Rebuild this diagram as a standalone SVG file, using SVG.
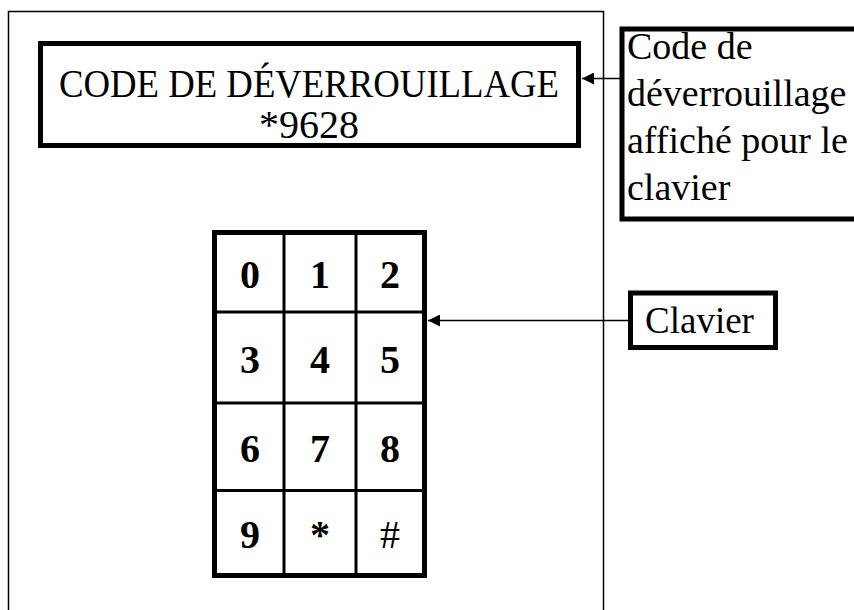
<svg xmlns="http://www.w3.org/2000/svg" width="854" height="610" viewBox="0 0 854 610">
<defs>
<style>
.t{font-family:"Liberation Serif","Times New Roman",serif;fill:#000}
.d{font-family:"Liberation Serif","Times New Roman",serif;font-weight:bold;font-size:40px;text-anchor:middle;fill:#000}
.thick{fill:none;stroke:#000;stroke-width:5}
.thin{fill:none;stroke:#000;stroke-width:3}
.conn{stroke:#000;stroke-width:1.5;fill:none}
</style>
<marker id="ah" viewBox="0 0 10 10" refX="10" refY="5" markerWidth="12" markerHeight="12" markerUnits="userSpaceOnUse" orient="auto">
<path d="M0,0 L10,5 L0,10 z" fill="#000"/>
</marker>
</defs>
<rect width="854" height="610" fill="#fff"/>
<g id="device">
<rect x="8.5" y="11.5" width="595" height="610" fill="none" stroke="#000" stroke-width="1.5"/>
</g>
<g id="display">
<rect class="thick" x="40.5" y="43.5" width="538" height="102"/>
<text class="t" x="309" y="97" font-size="41" text-anchor="middle" textLength="500" lengthAdjust="spacingAndGlyphs">CODE DE DÉVERROUILLAGE</text>
<text class="t" x="309" y="138" font-size="40" text-anchor="middle">*9628</text>
</g>
<g id="keypad">
<rect class="thick" x="214.5" y="232.5" width="210" height="343"/>
<line class="thin" x1="284" y1="232.5" x2="284" y2="575.5"/>
<line class="thin" x1="356" y1="232.5" x2="356" y2="575.5"/>
<line class="thin" x1="214.5" y1="312" x2="424.5" y2="312"/>
<line class="thin" x1="214.5" y1="403" x2="424.5" y2="403"/>
<line class="thin" x1="214.5" y1="490.5" x2="424.5" y2="490.5"/>
<text class="d" x="250" y="288">0</text>
<text class="d" x="320" y="288">1</text>
<text class="d" x="390" y="288">2</text>
<text class="d" x="250" y="373">3</text>
<text class="d" x="320" y="373">4</text>
<text class="d" x="390" y="373">5</text>
<text class="d" x="250" y="462">6</text>
<text class="d" x="320" y="462">7</text>
<text class="d" x="390" y="462">8</text>
<text class="d" x="250" y="548">9</text>
<text class="d" x="320" y="548">*</text>
<text class="t" x="390" y="548" font-size="40" text-anchor="middle">#</text>
</g>
<g id="label-code">
<rect class="thick" x="622" y="29" width="240" height="190"/>
<text class="t" x="627" y="59" font-size="38">Code de</text>
<text class="t" x="627" y="106" font-size="38">déverrouillage</text>
<text class="t" x="627" y="153" font-size="38">affiché pour le</text>
<text class="t" x="627" y="200" font-size="38">clavier</text>
</g>
<g id="label-clavier">
<rect class="thick" x="630.5" y="293" width="145" height="54.5"/>
<text class="t" x="645" y="333" font-size="37">Clavier</text>
</g>
<g id="connectors">
<line class="conn" x1="620" y1="78.5" x2="582" y2="78.5" marker-end="url(#ah)"/>
<line class="conn" x1="628" y1="320.5" x2="428" y2="320.5" marker-end="url(#ah)"/>
</g>
</svg>
